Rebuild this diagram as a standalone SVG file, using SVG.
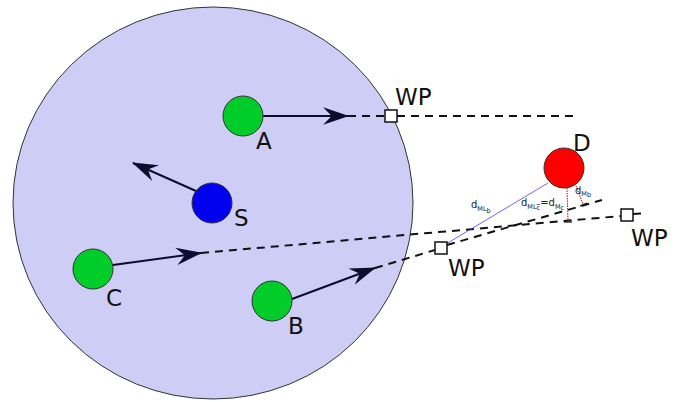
<svg xmlns="http://www.w3.org/2000/svg" width="679" height="402" viewBox="0 0 679 402">
<defs>
<style>
.lbl{font-family:"DejaVu Sans",sans-serif;font-size:23px;fill:#111;}
.sm{font-family:"DejaVu Sans",sans-serif;fill:#222;}
.arr{stroke:#0c0c2c;stroke-width:2;fill:none;marker-end:url(#ah);}
.dash{stroke:#111;stroke-width:2;fill:none;stroke-dasharray:8,6;}
.wp{fill:#fff;stroke:#111;stroke-width:1.5;}
.node{stroke:#333;stroke-width:1;}
.red{stroke:#c00;stroke-width:1;stroke-dasharray:1.5,1;fill:none;}
.tick{stroke:#111;stroke-width:1.2;}
</style>
<marker id="ah" viewBox="0 0 24 16" refX="23" refY="8" markerWidth="13" markerHeight="9" orient="auto" markerUnits="strokeWidth">
<path d="M0,0 L24,8 L0,16 L8,8 Z" fill="#0c0c2c"/>
</marker>
</defs>
<rect width="679" height="402" fill="#fff"/>
<g id="region">
<ellipse cx="213" cy="203" rx="200" ry="196" fill="#cdcdf6" stroke="#333" stroke-width="1"/>
</g>
<g id="connectors">
<line class="arr" x1="263" y1="116" x2="348" y2="116"/>
<line class="arr" x1="196" y1="191" x2="133" y2="163"/>
<line class="arr" x1="113" y1="265" x2="201" y2="253"/>
<line class="arr" x1="292" y1="299" x2="375" y2="268"/>
<line class="dash" x1="348" y1="116" x2="385" y2="116"/>
<line class="dash" x1="397" y1="116" x2="577" y2="116"/>
<line class="dash" x1="201" y1="253" x2="621" y2="216"/>
<line class="dash" x1="633" y1="214" x2="646" y2="213"/>
<line class="dash" x1="375" y1="268" x2="435" y2="250"/>
<line class="dash" x1="447" y1="245" x2="602" y2="200"/>
<line x1="548" y1="183" x2="446" y2="244" stroke="#4444dd" stroke-width="0.8"/>
<line class="red" x1="567" y1="188" x2="568" y2="221"/>
<line class="tick" x1="564" y1="222" x2="572" y2="222"/>
<line class="red" x1="576" y1="186" x2="583" y2="204"/>
<line class="tick" x1="580" y1="206" x2="587" y2="203"/>
</g>
<g id="wp1"><rect class="wp" x="385" y="110" width="12" height="12"/><text class="lbl" x="395" y="105">WP</text></g>
<g id="wp2"><rect class="wp" x="435" y="242" width="12" height="12"/><text class="lbl" x="448" y="276">WP</text></g>
<g id="wp3"><rect class="wp" x="621" y="209" width="12" height="12"/><text class="lbl" x="631" y="246">WP</text></g>
<g id="A"><circle class="node" cx="243" cy="116" r="20" fill="#00cc2a"/><text class="lbl" x="256" y="149">A</text></g>
<g id="S"><circle class="node" cx="212" cy="203" r="20" fill="#0000ee"/><text class="lbl" x="234" y="226">S</text></g>
<g id="C"><circle class="node" cx="93" cy="269" r="20" fill="#00cc2a"/><text class="lbl" x="106" y="306">C</text></g>
<g id="B"><circle class="node" cx="272" cy="301" r="20" fill="#00cc2a"/><text class="lbl" x="288" y="334">B</text></g>
<g id="D"><circle class="node" cx="564" cy="168" r="20" fill="#ff0000"/><text class="lbl" x="573" y="151">D</text></g>
<g id="labels">
<text class="sm" x="471" y="208" font-size="10">d<tspan font-size="6.5" dy="3">ML</tspan><tspan font-size="6.5" dy="2">b</tspan></text>
<text class="sm" x="521" y="206" font-size="10">d<tspan font-size="6.5" dy="3">ML</tspan><tspan font-size="6.5" dy="1" text-decoration="overline">c</tspan><tspan font-size="10" dy="-4">=d</tspan><tspan font-size="6.5" dy="3">M</tspan><tspan font-size="6.5" dy="1">c</tspan></text>
<text class="sm" x="575" y="194" font-size="10">d<tspan font-size="6.5" dy="2">M</tspan><tspan font-size="6.5" dy="1">b</tspan></text>
</g>
</svg>
